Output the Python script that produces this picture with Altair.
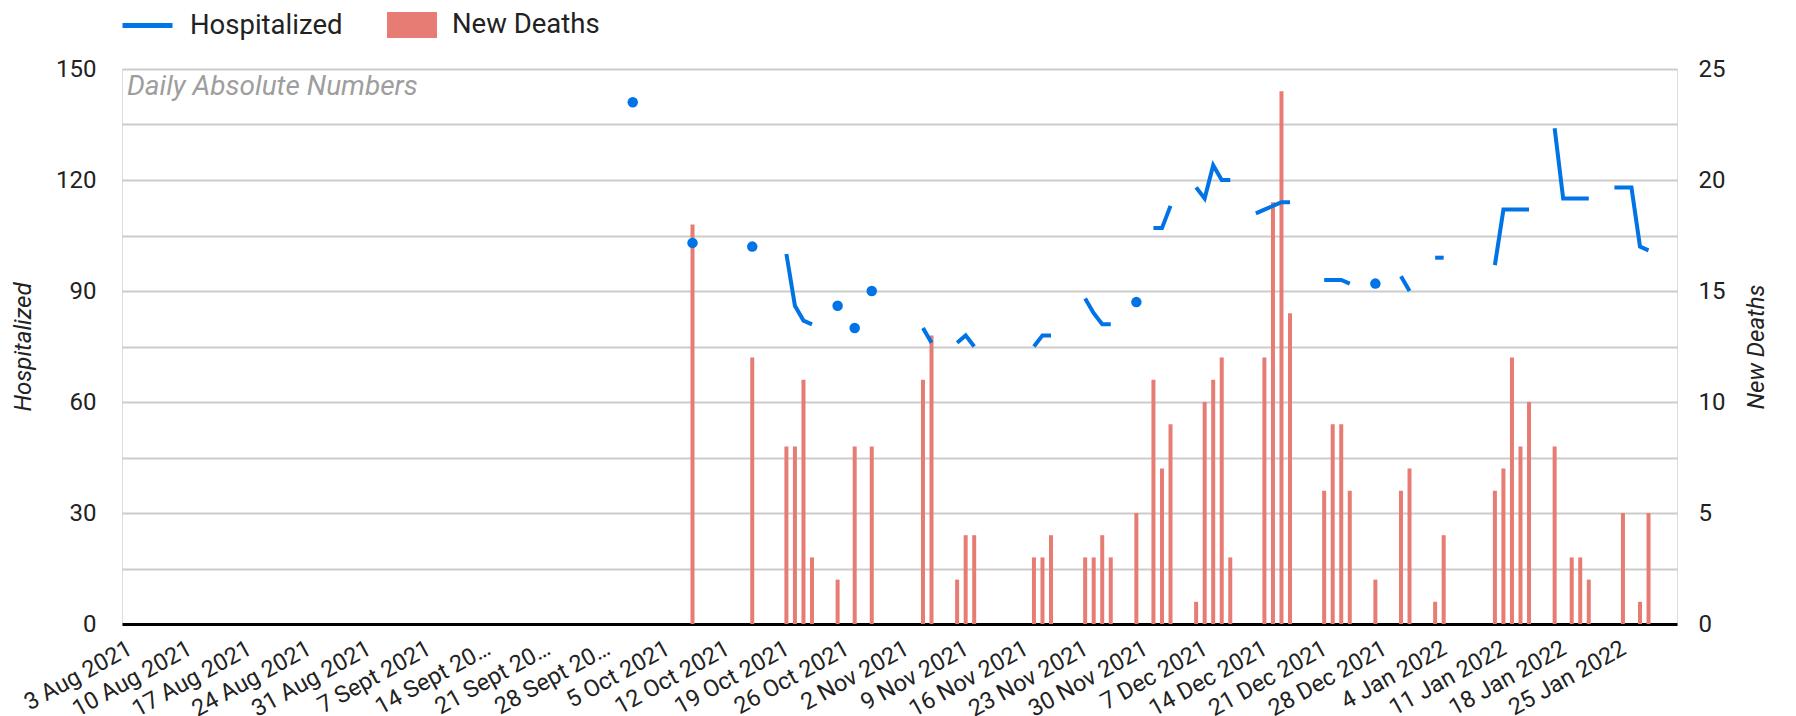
import altair as alt
import pandas as pd

# ---------------- data ----------------
DOMAIN_START = "2021-08-02 18:00"
DOMAIN_END = "2022-01-30 18:00"
START_DATE = "2021-08-03"

tick_dates = ["2021-08-03", "2021-08-10", "2021-08-17", "2021-08-24", "2021-08-31",
              "2021-09-07", "2021-09-14", "2021-09-21", "2021-09-28", "2021-10-05",
              "2021-10-12", "2021-10-19", "2021-10-26", "2021-11-02", "2021-11-09",
              "2021-11-16", "2021-11-23", "2021-11-30", "2021-12-07", "2021-12-14",
              "2021-12-21", "2021-12-28", "2022-01-04", "2022-01-11", "2022-01-18",
              "2022-01-25"]

hosp_dates = ["2021-10-01", "2021-10-08", "2021-10-15", "2021-10-19", "2021-10-20",
              "2021-10-21", "2021-10-22", "2021-10-25", "2021-10-27", "2021-10-29",
              "2021-11-04", "2021-11-05", "2021-11-08", "2021-11-09", "2021-11-10",
              "2021-11-17", "2021-11-18", "2021-11-19", "2021-11-23", "2021-11-24",
              "2021-11-25", "2021-11-26", "2021-11-29", "2021-12-01", "2021-12-02",
              "2021-12-03", "2021-12-06", "2021-12-07", "2021-12-08", "2021-12-09",
              "2021-12-10", "2021-12-13", "2021-12-14", "2021-12-15", "2021-12-16",
              "2021-12-17", "2021-12-21", "2021-12-22", "2021-12-23", "2021-12-24",
              "2021-12-27", "2021-12-30", "2021-12-31", "2022-01-03", "2022-01-04",
              "2022-01-10", "2022-01-11", "2022-01-12", "2022-01-13", "2022-01-14",
              "2022-01-17", "2022-01-18", "2022-01-19", "2022-01-20", "2022-01-21",
              "2022-01-24", "2022-01-25", "2022-01-26", "2022-01-27", "2022-01-28"]
hosp_values = [141, 103, 102, 100, 86, 82, 81, 86, 80, 90,
               80, 76, 76, 78, 75, 75, 78, 78, 88, 84,
               81, 81, 87, 107, 107, 113, 118, 115, 124, 120,
               120, 111, 112, 113, 114, 114, 93, 93, 93, 92,
               92, 94, 90, 99, 99, 97, 112, 112, 112, 112,
               134, 115, 115, 115, 115, 118, 118, 118, 102, 101]

death_dates = ["2021-10-08", "2021-10-15", "2021-10-19", "2021-10-20", "2021-10-21",
               "2021-10-22", "2021-10-25", "2021-10-27", "2021-10-29", "2021-11-04",
               "2021-11-05", "2021-11-08", "2021-11-09", "2021-11-10", "2021-11-17",
               "2021-11-18", "2021-11-19", "2021-11-23", "2021-11-24", "2021-11-25",
               "2021-11-26", "2021-11-29", "2021-12-01", "2021-12-02", "2021-12-03",
               "2021-12-06", "2021-12-07", "2021-12-08", "2021-12-09", "2021-12-10",
               "2021-12-14", "2021-12-15", "2021-12-16", "2021-12-17", "2021-12-21",
               "2021-12-22", "2021-12-23", "2021-12-24", "2021-12-27", "2021-12-30",
               "2021-12-31", "2022-01-03", "2022-01-04", "2022-01-10", "2022-01-11",
               "2022-01-12", "2022-01-13", "2022-01-14", "2022-01-17", "2022-01-19",
               "2022-01-20", "2022-01-21", "2022-01-25", "2022-01-27", "2022-01-28"]
death_values = [18, 12, 8, 8, 11, 3, 2, 8, 8, 11,
                13, 2, 4, 4, 3, 3, 4, 3, 3, 4,
                3, 5, 11, 7, 9, 1, 10, 11, 12, 3,
                12, 19, 24, 14, 6, 9, 9, 6, 2, 6,
                7, 1, 4, 6, 7, 12, 8, 10, 8, 3,
                3, 2, 5, 1, 5]

SERIES = ["Hospitalized", "New Deaths"]
SUBTITLE = "Daily Absolute Numbers"

# ---------------- style ----------------
BLUE = "#0073E6"
RED = "#E67C73"
FONT = "Roboto"
TEXT = "#222222"


def ms(s):
    return int(pd.Timestamp(s, tz="UTC").value // 10**6)


# hospitalized table: consecutive days form one line segment, lone days become dots
h = pd.DataFrame({"date": pd.to_datetime(hosp_dates), "hosp": hosp_values})
day = (h["date"] - pd.Timestamp(START_DATE)).dt.days
h["seg"] = (day.diff() != 1).cumsum()
h["single"] = h.groupby("seg")["hosp"].transform("size") == 1
h["date"] = h["date"].dt.strftime("%Y-%m-%d")
h["series"] = SERIES[0]

d = pd.DataFrame({"date": death_dates, "deaths": death_values})
d["series"] = SERIES[1]

x_enc = alt.X(
    "date:T",
    title=None,
    scale=alt.Scale(type="utc", domain=[ms(DOMAIN_START), ms(DOMAIN_END)]),
    axis=alt.Axis(
        values=[ms(t) for t in tick_dates],
        labelExpr="replace(utcFormat(datum.value, '%-d %b %Y'), 'Sep ', 'Sept ')",
        labelAngle=331, labelAlign="right", labelBaseline="top",
        labelPadding=12, labelOffset=-5, labelFont=FONT, labelFontSize=23.5, labelColor=TEXT,
        labelLimit=135, labelOverlap=False, labelFlush=False, labelBound=False,
        ticks=False, grid=False, domainColor="#000000", domainWidth=3,
    ),
)

legend_common = dict(
    title=None, orient="none", direction="horizontal",
    labelFont=FONT, labelFontSize=27.5, labelColor=TEXT, labelOffset=15,
    padding=0, labelLimit=400, symbolSize=2500,
)

stroke_enc = alt.Stroke(
    "series:N",
    scale=alt.Scale(domain=[SERIES[0]], range=[BLUE]),
    legend=alt.Legend(legendX=-2, legendY=-71, symbolType="stroke",
                      symbolStrokeWidth=5, **legend_common),
)
fill_enc = alt.Fill(
    "series:N",
    scale=alt.Scale(domain=[SERIES[1]], range=[RED]),
    legend=alt.Legend(legendX=265, legendY=-69,
                      symbolType="M-1,-0.52L1,-0.52L1,0.52L-1,0.52Z",
                      symbolStrokeWidth=0, symbolOpacity=1, **legend_common),
)

left_axis = alt.Axis(
    orient="left", values=list(range(0, 151, 15)),
    labelExpr="datum.value % 30 === 0 ? datum.label : ''",
    grid=True, gridColor="#cccccc", gridWidth=2, domain=False, ticks=False,
    labelFont=FONT, labelFontSize=24, labelColor=TEXT, labelPadding=26,
    title="Hospitalized", titleFont=FONT, titleFontSize=24, titleFontStyle="italic",
    titleFontWeight="normal", titleColor=TEXT, titlePadding=20,
)
right_axis = alt.Axis(
    orient="right", values=[0, 5, 10, 15, 20, 25],
    grid=False, domain=False, ticks=False,
    labelFont=FONT, labelFontSize=24, labelColor=TEXT, labelPadding=21,
    title="New Deaths", titleFont=FONT, titleFontSize=24, titleFontStyle="italic",
    titleFontWeight="normal", titleColor=TEXT, titleAngle=270, titleBaseline="top",
    titlePadding=20,
)

bars = alt.Chart(d).mark_bar(size=4, strokeWidth=0).encode(
    x=x_enc,
    y=alt.Y("deaths:Q", scale=alt.Scale(domain=[0, 25]), axis=right_axis),
    fill=fill_enc,
)

line = alt.Chart(h).mark_line(strokeWidth=4, strokeJoin="miter", strokeCap="butt").encode(
    x=x_enc,
    y=alt.Y("hosp:Q", scale=alt.Scale(domain=[0, 150]), axis=left_axis),
    stroke=stroke_enc,
    detail="seg:N",
)

points = alt.Chart(h).transform_filter("datum.single").mark_circle(size=110, opacity=1).encode(
    x=x_enc,
    y=alt.Y("hosp:Q", scale=alt.Scale(domain=[0, 150]), axis=None),
    color=alt.value(BLUE),
)

chart = alt.layer(bars, line, points).resolve_scale(y="independent").properties(
    width=1555,
    height=555,
    autosize=alt.AutoSizeParams(type="none"),
    padding={"left": 114, "top": 61, "right": 96, "bottom": 92},
    title=alt.TitleParams(
        SUBTITLE, anchor="start", frame="group", orient="top", offset=-125, dx=5,
        baseline="alphabetic", font=FONT, fontSize=28, fontStyle="italic",
        fontWeight="normal", color="#9e9e9e",
    ),
).configure_view(strokeWidth=0).configure(background="#ffffff", font=FONT)

chart.save("out.html", embed_options={"renderer": "svg", "actions": False})
